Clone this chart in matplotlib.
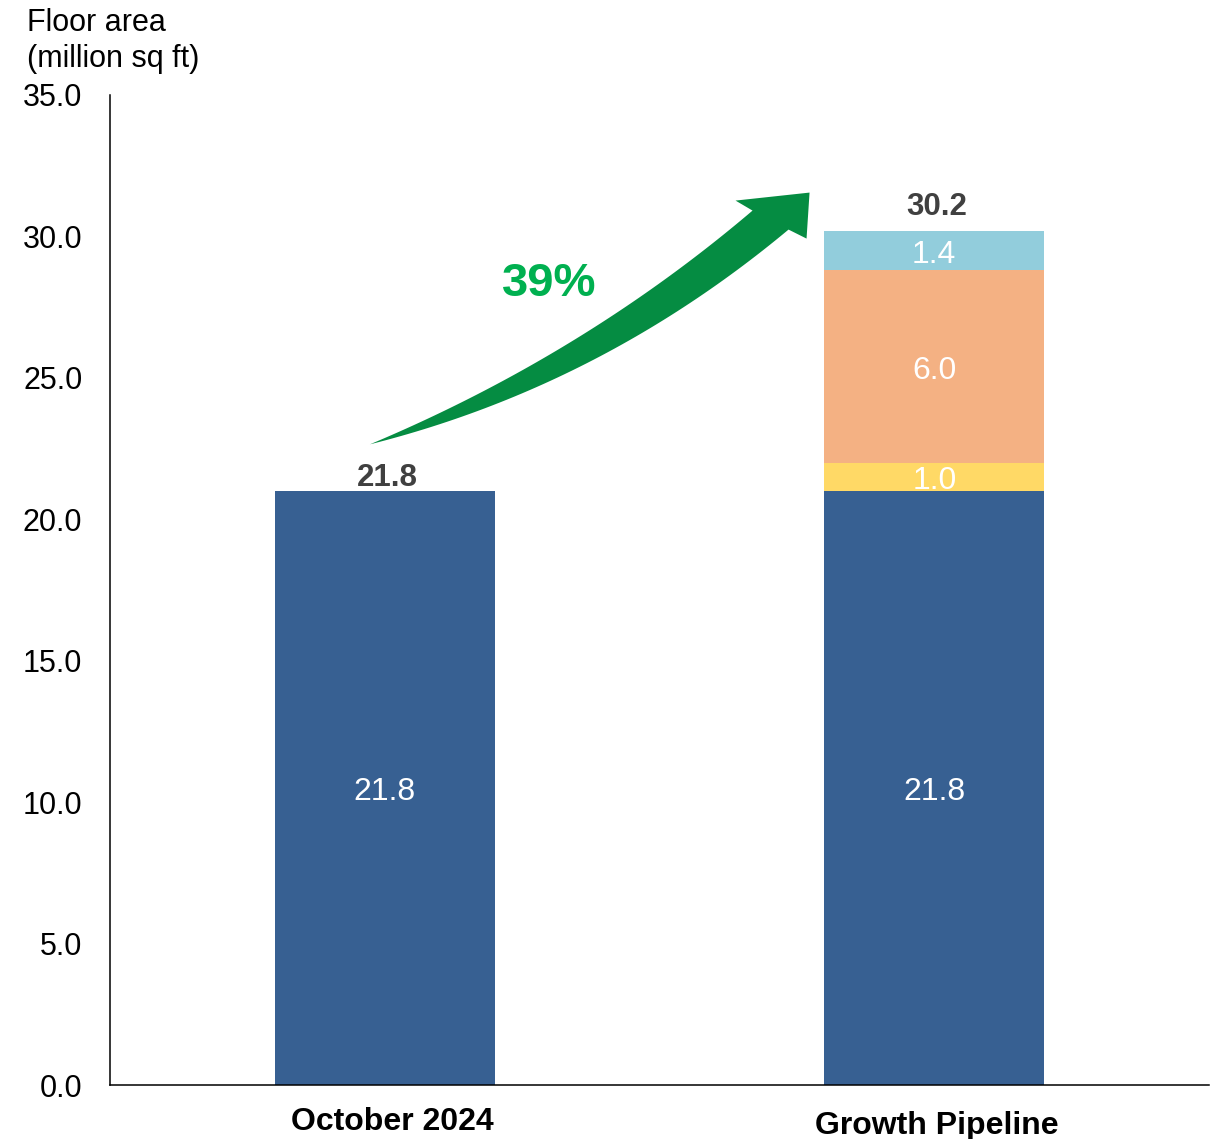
import matplotlib
matplotlib.use("Agg")
import numpy as np
import matplotlib.pyplot as plt
import matplotlib.transforms as mtransforms
from matplotlib.patches import Polygon

plt.rcParams['font.family'] = ['Liberation Sans', 'DejaVu Sans']

# data
categories = ['October 2024', 'Growth Pipeline']
base = [21.0, 21.0]
seg_yellow = [0.0, 1.0]
seg_orange = [0.0, 6.8]
seg_blue = [0.0, 1.4]
base_labels = ['21.8', '21.8']
seg_labels = ['1.0', '6.0', '1.4']
total_labels = ['21.8', '30.2']
growth_label = '39%'
yticks = [0, 5, 10, 15, 20, 25, 30, 35]

c_base = '#376092'
c_yellow = '#FFD966'
c_orange = '#F4B183'
c_blue = '#92CDDC'

fig = plt.figure(figsize=(12.2, 11.39), dpi=100)
ax = fig.add_axes([0.0902, 0.0474, 0.9008, 0.8692])

x = [0, 1]
w = 0.4
ax.bar(x, base, w, color=c_base)
bottom2 = [b + y for b, y in zip(base, seg_yellow)]
bottom3 = [b + o for b, o in zip(bottom2, seg_orange)]
ax.bar(x[1], seg_yellow[1], w, bottom=base[1], color=c_yellow)
ax.bar(x[1], seg_orange[1], w, bottom=bottom2[1], color=c_orange)
ax.bar(x[1], seg_blue[1], w, bottom=bottom3[1], color=c_blue)

# labels inside segments
for i in x:
    ax.annotate(base_labels[i], (i, base[i] / 2), xytext=(0, -3),
                textcoords='offset points', ha='center', va='center',
                color='white', fontsize=23)
segs = [(base[1], seg_yellow[1]), (bottom2[1], seg_orange[1]), (bottom3[1], seg_blue[1])]
for (b, h), lab in zip(segs, seg_labels):
    ax.annotate(lab, (1, b + h / 2), xytext=(0, -3), textcoords='offset points',
                ha='center', va='center', color='white', fontsize=23)

# totals on top
tops = [base[0], bottom3[1] + seg_blue[1]]
offsets = [-1.5, 6.5]
for i in x:
    ax.annotate(total_labels[i], (i + 0.005, tops[i]), xytext=(0, offsets[i]),
                textcoords='offset points', ha='center', va='bottom',
                fontsize=22.5, fontweight='bold', color='#404040')

ax.set_xlim(-0.5, 1.5)
ax.set_ylim(0, 35)

# growth arrow, built in pixel space from two anchor points
H = ax.transData.transform((0.773, 31.55))   # tip
T = ax.transData.transform((-0.027, 22.65))  # tail


def off(dx, dy):
    return H + np.array([dx, -dy])


NL, BL, BR, NR = off(-57, 18), off(-74, 8), off(-3, 46), off(-21, 37)
N = (NL + NR) / 2
d = (N - T) / np.linalg.norm(N - T)
n_down = np.array([d[1], -d[0]])
P1 = (T + N) / 2 + 2 * 22 * n_down
Pu = P1 - 18 * n_down
Pl = P1 + 18 * n_down
t = np.linspace(0, 1, 60)[:, None]


def bez(a, b, c):
    return (1 - t) ** 2 * a + 2 * (1 - t) * t * b + t ** 2 * c


upper = bez(T, Pu, NL)
lower = bez(T, Pl, NR)
pts = np.vstack([upper, [BL, H, BR], lower[::-1]])
ax.add_patch(Polygon(pts, closed=True, facecolor='#058C42', edgecolor='none',
                     transform=mtransforms.IdentityTransform(), clip_on=False))

ax.text(0.299, 28.32, growth_label, ha='center', va='center', fontsize=34,
        fontweight='bold', color='#00B050')

ax.set_yticks(yticks)
ax.set_yticklabels(['%.1f' % v for v in yticks])
ax.set_xticks(x)
ax.set_xticklabels(categories, fontsize=23, fontweight='bold')
ax.tick_params(axis='y', length=0, pad=20, labelsize=22)
ax.tick_params(axis='x', length=0, pad=16)
shifts = [(8, 0), (3, -4)]
for lab, (dx, dy) in zip(ax.get_xticklabels(), shifts):
    lab.set_transform(lab.get_transform() +
                      mtransforms.ScaledTranslation(dx / 100, dy / 100, fig.dpi_scale_trans))
for s in ['top', 'right']:
    ax.spines[s].set_visible(False)
for s in ['left', 'bottom']:
    ax.spines[s].set_linewidth(1.1)

fig.text(0.022, 0.9934, 'Floor area\n(million sq ft)', ha='left', va='top',
         fontsize=22, linespacing=1.3)

fig.savefig('out.png', dpi=100)
